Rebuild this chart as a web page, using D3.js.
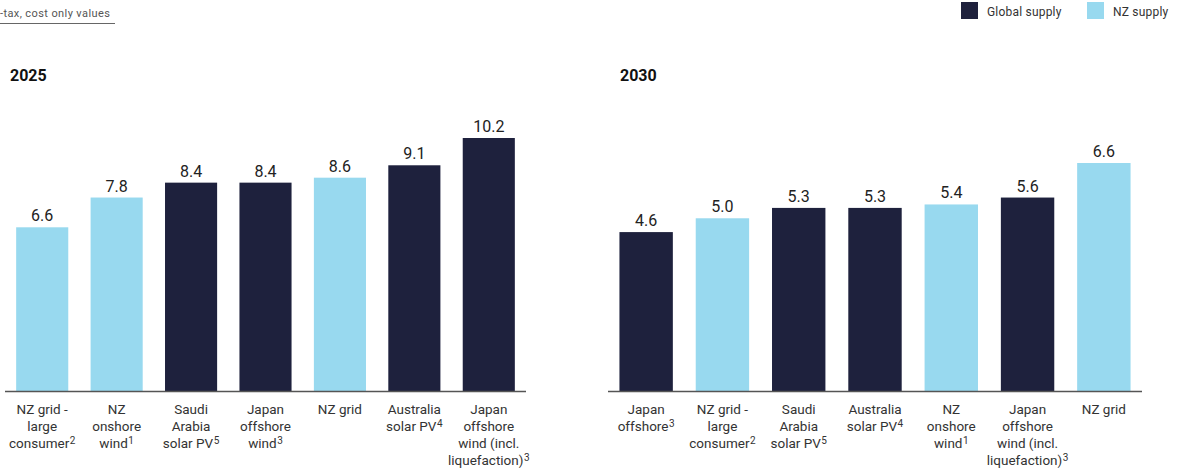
<!DOCTYPE html>
<html>
<head>
<meta charset="utf-8">
<script src="https://cdn.jsdelivr.net/npm/d3@7"></script>
<style>
  html, body { margin: 0; padding: 0; background: #fff; }
  svg { display: block; font-family: Roboto, "Noto Sans", sans-serif; }
</style>
</head>
<body>
<svg id="chart" width="1183" height="472"></svg>
<script>
// Categories per panel: label lines, plus footnote marker on the last line
const cats2025 = [
  { lines: ["NZ grid -", "large", "consumer"], note: "2" },
  { lines: ["NZ", "onshore", "wind"], note: "1" },
  { lines: ["Saudi", "Arabia", "solar PV"], note: "5" },
  { lines: ["Japan", "offshore", "wind"], note: "3" },
  { lines: ["NZ grid"], note: "" },
  { lines: ["Australia", "solar PV"], note: "4" },
  { lines: ["Japan", "offshore", "wind (incl.", "liquefaction)"], note: "3" }
];
const values2025 = [6.6, 7.8, 8.4, 8.4, 8.6, 9.1, 10.2];
const supply2025 = ["NZ", "NZ", "Global", "Global", "NZ", "Global", "Global"];

const cats2030 = [
  { lines: ["Japan", "offshore"], note: "3" },
  { lines: ["NZ grid -", "large", "consumer"], note: "2" },
  { lines: ["Saudi", "Arabia", "solar PV"], note: "5" },
  { lines: ["Australia", "solar PV"], note: "4" },
  { lines: ["NZ", "onshore", "wind"], note: "1" },
  { lines: ["Japan", "offshore", "wind (incl.", "liquefaction)"], note: "3" },
  { lines: ["NZ grid"], note: "" }
];
const values2030 = [4.6, 5.0, 5.3, 5.3, 5.4, 5.6, 6.6];
const supply2030 = ["Global", "NZ", "Global", "Global", "NZ", "Global", "NZ"];

const legendKeys = ["Global", "NZ"];
const legendLabels = ["Global supply", "NZ supply"];

const color = d3.scaleOrdinal().domain(legendKeys).range(["#1e213d", "#98d9ef"]);

const svg = d3.select("#chart");

// Note at top-left with an underline
svg.append("text")
  .attr("x", 0).attr("y", 17)
  .attr("fill", "#555")
  .style("font-size", "11px")
  .style("letter-spacing", "0.4px")
  .text("-tax, cost only values");
svg.append("line")
  .attr("x1", 0).attr("x2", 115)
  .attr("y1", 23.5).attr("y2", 23.5)
  .attr("stroke", "#666").attr("stroke-width", 1);

// Legend
const legend = svg.append("g");
const legendX = [961, 1087];
legendKeys.forEach((k, i) => {
  legend.append("rect")
    .attr("x", legendX[i]).attr("y", 2)
    .attr("width", 17).attr("height", 17)
    .attr("fill", color(k));
  legend.append("text")
    .attr("x", legendX[i] + 26).attr("y", 15.5)
    .attr("fill", "#333")
    .style("font-size", "12px")
    .style("letter-spacing", "0.2px")
    .text(legendLabels[i]);
});

function panel(title, cats, values, supply, x0, x1, titleX, topY) {
  const baseY = 391;
  const g = svg.append("g");
  const x = d3.scaleBand()
    .domain(d3.range(cats.length))
    .range([x0, x1])
    .paddingInner(0.3)
    .paddingOuter(0.15);
  const y = d3.scaleLinear()
    .domain([0, d3.max(values)])
    .range([baseY, topY]);

  g.append("text")
    .attr("x", titleX).attr("y", 81)
    .attr("fill", "#111")
    .style("font-size", "16px")
    .style("font-weight", "bold")
    .text(title);

  g.selectAll("rect.bar")
    .data(values)
    .join("rect")
    .attr("class", "bar")
    .attr("x", (d, i) => x(i))
    .attr("width", x.bandwidth())
    .attr("y", d => y(d))
    .attr("height", d => baseY - y(d))
    .attr("fill", (d, i) => color(supply[i]));

  g.selectAll("text.val")
    .data(values)
    .join("text")
    .attr("class", "val")
    .attr("x", (d, i) => x(i) + x.bandwidth() / 2)
    .attr("y", d => y(d) - 6)
    .attr("text-anchor", "middle")
    .attr("fill", "#222")
    .style("font-size", "16px")
    .text(d => d.toFixed(1));

  // Baseline axis
  g.append("line")
    .attr("x1", x0).attr("x2", x1)
    .attr("y1", baseY + 0.5).attr("y2", baseY + 0.5)
    .attr("stroke", "#555").attr("stroke-width", 1.3);

  // Multi-line category labels with superscript footnote markers
  cats.forEach((c, i) => {
    const t = g.append("text")
      .attr("x", x(i) + x.bandwidth() / 2)
      .attr("y", 414)
      .attr("text-anchor", "middle")
      .attr("fill", "#333")
      .style("font-size", "13.5px");
    c.lines.forEach((ln, j) => {
      const last = j === c.lines.length - 1;
      t.append("tspan")
        .attr("x", x(i) + x.bandwidth() / 2)
        .attr("dy", j === 0 ? 0 : 17)
        .text(ln);
      if (last && c.note) {
        t.append("tspan")
          .style("font-size", "10px")
          .attr("dx", 0.5)
          .attr("dy", -4)
          .text(c.note);
      }
    });
  });
}

panel("2025", cats2025, values2025, supply2025, 5, 526, 10, 138);
panel("2030", cats2030, values2030, supply2030, 608, 1142, 620, 163);
</script>
</body>
</html>
